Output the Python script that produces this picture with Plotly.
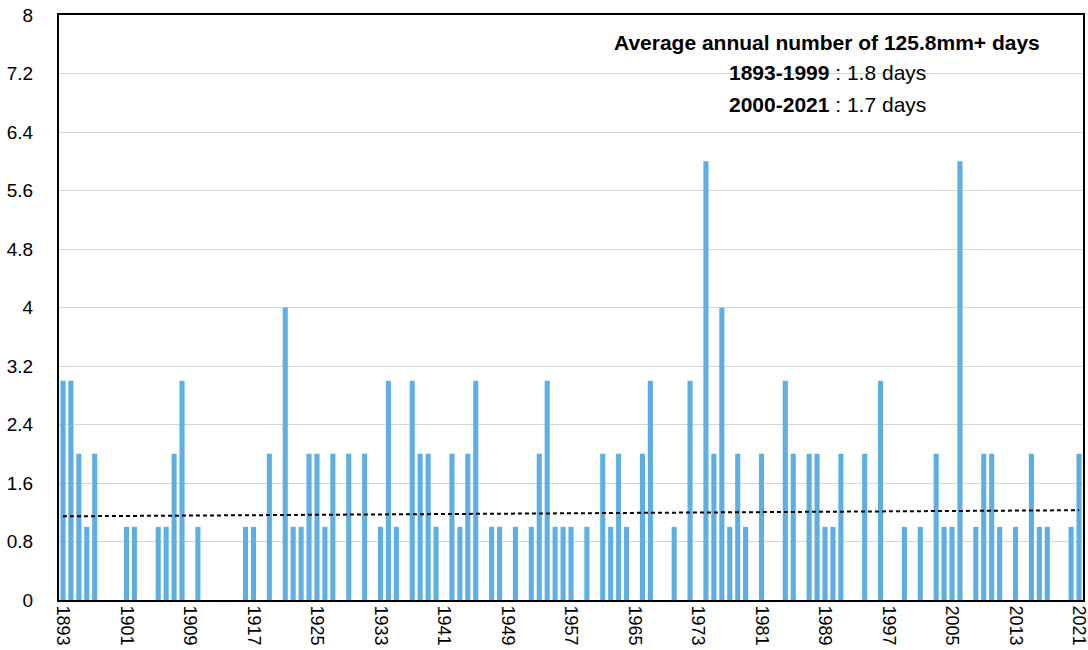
import numpy as np
import plotly.graph_objects as go

years = list(range(1893, 2022))
days_by_year = {
    1893: 3, 1894: 3, 1895: 2, 1896: 1, 1897: 2,
    1901: 1, 1902: 1, 1905: 1, 1906: 1, 1907: 2, 1908: 3, 1910: 1,
    1916: 1, 1917: 1, 1919: 2, 1921: 4, 1922: 1, 1923: 1, 1924: 2, 1925: 2,
    1926: 1, 1927: 2, 1929: 2, 1931: 2, 1933: 1, 1934: 3, 1935: 1,
    1937: 3, 1938: 2, 1939: 2, 1940: 1, 1942: 2, 1943: 1, 1944: 2, 1945: 3,
    1947: 1, 1948: 1, 1950: 1, 1952: 1, 1953: 2, 1954: 3, 1955: 1, 1956: 1,
    1957: 1, 1959: 1, 1961: 2, 1962: 1, 1963: 2, 1964: 1, 1966: 2, 1967: 3,
    1970: 1, 1972: 3, 1974: 6, 1975: 2, 1976: 4, 1977: 1, 1978: 2, 1979: 1,
    1981: 2, 1984: 3, 1985: 2, 1987: 2, 1988: 2, 1989: 1, 1990: 1, 1991: 2,
    1994: 2, 1996: 3, 1999: 1, 2001: 1, 2003: 2, 2004: 1, 2005: 1, 2006: 6,
    2008: 1, 2009: 2, 2010: 2, 2011: 1, 2013: 1, 2015: 2, 2016: 1, 2017: 1,
    2020: 1, 2021: 2,
}
values = [days_by_year.get(y, 0) for y in years]

x_tick_years = list(range(1893, 2022, 8))
y_tick_vals = [0, 0.8, 1.6, 2.4, 3.2, 4, 4.8, 5.6, 6.4, 7.2, 8]
y_tick_text = ["0", "0.8", "1.6", "2.4", "3.2", "4", "4.8", "5.6", "6.4", "7.2", "8"]

title_line = "<b>Average annual number of 125.8mm+ days</b>"
period_lines = ["<b>1893-1999</b> : 1.8 days", "<b>2000-2021</b> : 1.7 days"]

# linear trend of the series
coef = np.polyfit(years, values, 1)
trend = np.polyval(coef, years)

fig = go.Figure()
fig.add_trace(go.Bar(x=years, y=values, marker=dict(color="#5DAEE2", line=dict(width=0)),
                     showlegend=False))
fig.add_trace(go.Scatter(x=years, y=trend, mode="lines",
                         line=dict(color="black", width=2, dash="4px,3px"),
                         showlegend=False))

font = "Liberation Sans, Arial, Helvetica, sans-serif"
L, R, T, B = 59, 5, 15, 50
W, H = 1088, 650
fig.update_layout(
    width=W, height=H, autosize=False,
    margin=dict(l=L, r=R, t=T, b=B, autoexpand=False),
    paper_bgcolor="white", plot_bgcolor="white",
    bargap=0.36,
    font=dict(family=font, size=18, color="black"),
    xaxis=dict(range=[1892.5, 2021.5], tickvals=x_tick_years,
               ticktext=[str(y) for y in x_tick_years], tickangle=90,
               showgrid=False, showline=True, linecolor="black", linewidth=2,
               mirror=True, ticks="", zeroline=False, automargin=False,
               ticklabeloverflow="allow", tickfont=dict(size=18)),
    yaxis=dict(range=[0, 8], tickvals=y_tick_vals, ticktext=y_tick_text,
               showgrid=True, gridcolor="#d6d6d6", gridwidth=1,
               showline=True, linecolor="black", linewidth=2, mirror=True,
               ticks="", zeroline=False, tickfont=dict(size=19),
               ticklabelstandoff=20, automargin=False,
               ticklabeloverflow="allow"),
)

ann_y = [42, 73, 104]
for t, yy in zip([title_line] + period_lines, ann_y):
    fig.add_annotation(x=(827 - L) / (W - L - R), y=1 - (yy - T) / (H - T - B),
                       xref="paper", yref="paper", text=t, showarrow=False,
                       xanchor="center", yanchor="middle", font=dict(size=21))

fig.write_html("out.html", config={"displayModeBar": False},
               post_script="document.body.style.margin='0';document.body.style.overflow='hidden';")
